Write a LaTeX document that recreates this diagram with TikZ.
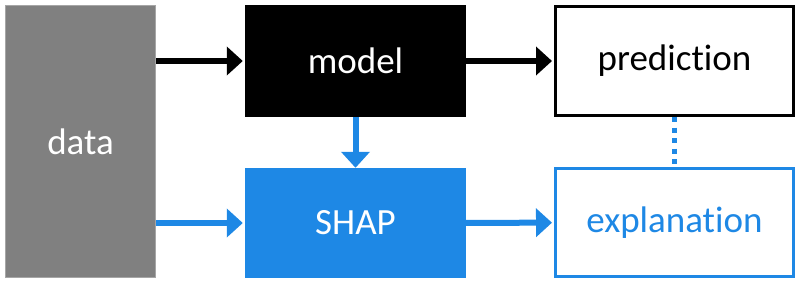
\documentclass[tikz,border=0pt]{standalone}
\usepackage{fontspec}
\setmainfont[Ligatures=NoCommon]{Carlito}
\usetikzlibrary{positioning,arrows.meta}
\definecolor{shapblue}{HTML}{1E88E5}
\definecolor{datagray}{HTML}{808080}
\begin{document}
\begin{tikzpicture}[x=1pt,y=-1pt,>={Triangle[length=16pt,width=28pt]},
  box/.style={rectangle,inner sep=0pt,font=\fontsize{37}{42}\selectfont},
  flow/.style={->,line width=6pt,shorten >=2pt}]
\useasboundingbox (0,0) rectangle (800,285);
\node[box,fill=datagray,draw=gray!70,line width=1pt,text=white,minimum width=150pt,minimum height=272pt] (data) at (80.5,141.5) {data};
\node[box,fill=black,text=white,minimum width=221pt,minimum height=112pt] (model) at (355.5,61) {model};
\node[box,draw=black,line width=3pt,fill=white,minimum width=238pt,minimum height=109pt] (pred) at (674.5,61) {prediction};
\node[box,fill=shapblue,text=white,minimum width=221pt,minimum height=110pt] (shap) at (355.5,223) {SHAP};
\node[box,draw=shapblue,line width=3pt,fill=white,text=shapblue,minimum width=238pt,minimum height=108pt] (expl) at (674.5,222.5) {explanation};
\draw[flow] (data.east |- model.west) -- (model.west);
\draw[flow] (model) -- (pred);
\draw[flow,shapblue] (data.east |- shap.west) -- (shap.west);
\draw[flow,shapblue] (shap) -- (expl);
\draw[flow,shapblue,shorten >=0pt] (model) -- (shap);
\draw[shapblue,line width=5pt,dash pattern=on 5pt off 5.5pt] (pred) -- (expl);
\end{tikzpicture}
\end{document}
